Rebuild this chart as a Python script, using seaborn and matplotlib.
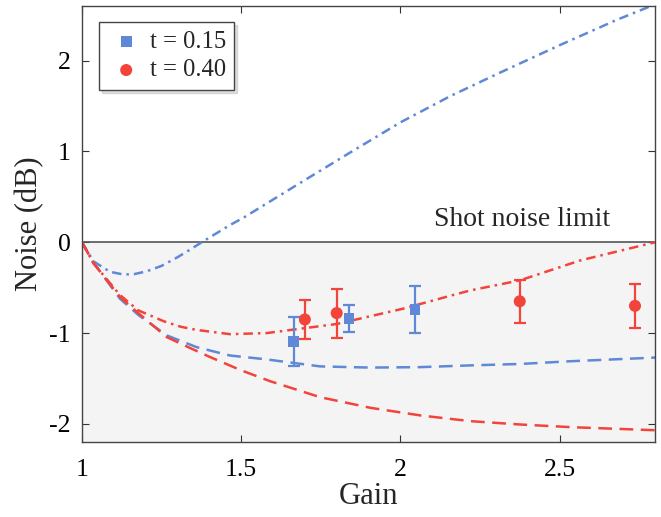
import numpy as np
import pandas as pd
import seaborn as sns
import matplotlib.pyplot as plt

# theory curves
blue_dd_x = [1.0, 1.036, 1.088, 1.13, 1.165, 1.203, 1.25, 1.3, 1.34, 1.376, 1.465, 1.507, 1.686, 1.843, 2.0, 2.157, 2.314, 2.5, 2.68, 2.8]
blue_dd_y = [0.0, -0.21, -0.325, -0.355, -0.35, -0.32, -0.26, -0.165, -0.08, 0.0, 0.19, 0.27, 0.655, 0.99, 1.32, 1.61, 1.87, 2.17, 2.45, 2.62]

blue_d_x = [1.0, 1.036, 1.119, 1.177, 1.266, 1.36, 1.465, 1.58, 1.748, 1.906, 2.063, 2.22, 2.377, 2.535, 2.8]
blue_d_y = [0.0, -0.22, -0.62, -0.80, -1.025, -1.155, -1.247, -1.29, -1.367, -1.38, -1.375, -1.356, -1.34, -1.31, -1.27]

red_dd_x = [1.0, 1.036, 1.119, 1.177, 1.257, 1.31, 1.36, 1.465, 1.58, 1.80, 2.01, 2.158, 2.22, 2.375, 2.565, 2.8]
red_dd_y = [0.0, -0.23, -0.58, -0.75, -0.87, -0.93, -0.965, -1.012, -1.0, -0.90, -0.73, -0.588, -0.53, -0.42, -0.20, 0.0]

red_d_x = [1.0, 1.036, 1.119, 1.177, 1.266, 1.34, 1.403, 1.5, 1.591, 1.748, 1.906, 2.063, 2.22, 2.377, 2.535, 2.8]
red_d_y = [0.0, -0.23, -0.60, -0.78, -1.044, -1.165, -1.265, -1.41, -1.53, -1.706, -1.823, -1.907, -1.97, -2.007, -2.036, -2.07]

# measured points
blue_pts_x = [1.665, 1.839, 2.046]
blue_pts_y = [-1.09, -0.84, -0.74]
blue_pts_err = [0.27, 0.15, 0.26]

red_pts_x = [1.70, 1.80, 2.375, 2.737]
red_pts_y = [-0.85, -0.78, -0.65, -0.70]
red_pts_err = [0.21, 0.27, 0.24, 0.24]

blue = "#5f88d6"
red = "#f2443a"

sns.set_style("ticks")
plt.rcParams['font.family'] = ['Liberation Serif', 'DejaVu Serif']

fig = plt.figure(figsize=(6.61, 5.17), dpi=100)
ax = fig.add_axes([0.124, 0.145, 0.867, 0.843])

ax.axhspan(-2.2, 0, color="#f4f4f4", zorder=0, lw=0)
ax.axhline(0, color="#555555", lw=1.2, zorder=1)

dashdot = (0, (3.8, 2, 1, 2))
dashed = (0, (5.5, 3))
sns.lineplot(x=blue_dd_x, y=blue_dd_y, ax=ax, color=blue, lw=1.8, sort=False, linestyle=dashdot)
sns.lineplot(x=blue_d_x, y=blue_d_y, ax=ax, color=blue, lw=1.8, sort=False, linestyle=dashed)
sns.lineplot(x=red_dd_x, y=red_dd_y, ax=ax, color=red, lw=1.8, sort=False, linestyle=dashdot)
sns.lineplot(x=red_d_x, y=red_d_y, ax=ax, color=red, lw=1.8, sort=False, linestyle=dashed)

ax.errorbar(blue_pts_x, blue_pts_y, yerr=blue_pts_err, fmt="none", ecolor=blue,
            elinewidth=1.6, capsize=4.5, capthick=1.6, zorder=3)
ax.errorbar(red_pts_x, red_pts_y, yerr=red_pts_err, fmt="none", ecolor=red,
            elinewidth=1.6, capsize=4.5, capthick=1.6, zorder=3)
sns.scatterplot(x=blue_pts_x, y=blue_pts_y, ax=ax, color=blue, marker="s", s=60,
                edgecolor="none", label="t = 0.15", zorder=4)
sns.scatterplot(x=red_pts_x, y=red_pts_y, ax=ax, color=red, marker="o", s=75,
                edgecolor="none", label="t = 0.40", zorder=4)

ax.text(2.105, 0.18, "Shot noise limit", fontsize=20, ha="left", va="baseline")

ax.set_xlim(1, 2.8)
ax.set_ylim(-2.2, 2.6)
ax.set_xticks([1, 1.5, 2, 2.5])
ax.set_xticklabels(["1", "1.5", "2", "2.5"])
ax.set_yticks([-2, -1, 0, 1, 2])
ax.set_yticklabels(["-2", "-1", "0", "1", "2"])
ax.tick_params(direction="in", length=5, width=0.8, top=True, right=True,
               labelsize=18.5, colors="#333333", labelcolor="black")
ax.tick_params(axis="x", pad=12)
ax.tick_params(axis="y", pad=8)
for sp in ax.spines.values():
    sp.set_color("#444444")
    sp.set_linewidth(1.0)

ax.set_xlabel("Gain", fontsize=22, labelpad=1)
ax.set_ylabel("Noise (dB)", fontsize=22, labelpad=4)

leg = ax.legend(loc="upper left", bbox_to_anchor=(0.03, 0.963), borderaxespad=0,
                fontsize=17.7, frameon=True, fancybox=False, edgecolor="#444444",
                handletextpad=0.2, borderpad=0.35, handlelength=1.5, labelspacing=0.25,
                shadow={"ox": 2, "oy": -2, "color": "#999999", "alpha": 0.3})
leg.get_frame().set_linewidth(1.0)

fig.savefig("out.png", dpi=100)
